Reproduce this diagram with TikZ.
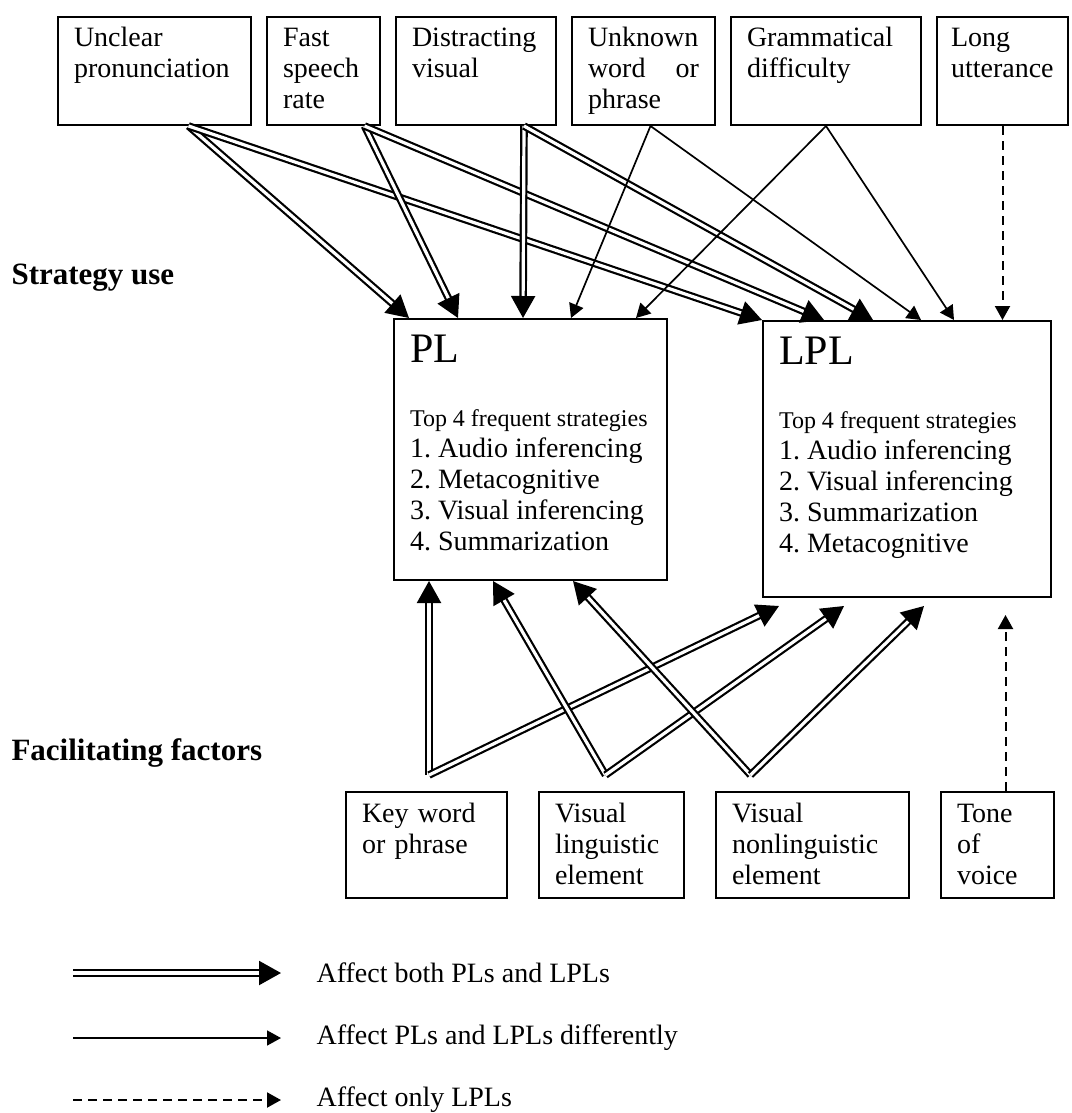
\documentclass[tikz,border=0pt]{standalone}
\usepackage{fontspec}
\setmainfont{Liberation Serif}
\usepackage{tikz}
\usetikzlibrary{positioning, arrows.meta, calc}
\frenchspacing

\begin{document}
\begin{tikzpicture}[x=1pt, y=-1pt,
  factor/.style={rectangle, draw, line width=2pt, anchor=north west, align=left,
    inner xsep=16pt, inner ysep=6pt, text height=24pt, text depth=72pt,
    font=\fontsize{28pt}{31pt}\selectfont},
  group/.style={rectangle, draw, line width=2pt, anchor=north west, align=flush left,
    inner xsep=16pt, inner ysep=6pt, text height=37pt,
    font=\fontsize{28pt}{31pt}\selectfont},
  side/.style={anchor=base west, font=\fontsize{31pt}{34pt}\selectfont\bfseries},
  keytext/.style={font=\fontsize{28pt}{31pt}\selectfont},
  bothlink/.style={double, double distance=3.2pt, line width=2.2pt,
    -{Triangle[length=22pt, width=24pt]}},
  difflink/.style={line width=1.7pt, -{Triangle[length=14pt, width=15pt]}},
  lplink/.style={line width=2pt, dash pattern=on 9pt off 6pt,
    -{Triangle[length=14pt, width=15pt]}}
]
  \useasboundingbox (0,0) rectangle (1071,1113);

  % problems heard or seen
  \node[factor, text width=161pt] (unclear) at (57,16) {Unclear\\pronunciation};
  \node[factor, text width=81pt, right=14pt of unclear] (fast) {Fast\\speech\\rate};
  \node[factor, text width=128pt, right=14pt of fast] (distract) {Distracting\\visual};
  \node[factor, text width=111pt, right=14pt of distract] (unknown) {Unknown\\word\hfill or\\phrase};
  \node[factor, text width=158pt, right=14pt of unknown] (grammar) {Grammatical\\difficulty};
  \node[factor, text width=103pt, inner xsep=14pt, right=14pt of grammar] (long) {Long\\utterance};

  \node[side] (usage) at (8,284) {Strategy use};

  \node[group, text width=241pt, text depth=212pt] (pl) at (393,318)
    {{\fontsize{42pt}{42pt}\selectfont PL}\\[33pt]
     {\fontsize{24pt}{24pt}\selectfont Top 4 frequent strategies}\\
     1. Audio inferencing\\2. Metacognitive\\3. Visual inferencing\\4. Summarization};
  \node[group, text width=256pt, text depth=227pt] (lpl) at (762,320)
    {{\fontsize{42pt}{42pt}\selectfont LPL}\\[33pt]
     {\fontsize{24pt}{24pt}\selectfont Top 4 frequent strategies}\\
     1. Audio inferencing\\2. Visual inferencing\\3. Summarization\\4. Metacognitive};

  \node[side] (facil) at (8,760) {Facilitating factors};

  % helping factors
  \node[factor, text width=129pt, text depth=70pt] (keyword) at (345,791) {Key word\\or phrase};
  \node[factor, text width=113pt, text depth=70pt, right=30pt of keyword] (vling) {Visual\\linguistic\\element};
  \node[factor, text width=161pt, text depth=70pt, right=30pt of vling] (nvling) {Visual\\nonlinguistic\\element};
  \node[factor, text width=81pt, text depth=70pt, right=30pt of nvling] (tone) {Tone\\of\\voice};

  \draw[bothlink] ([xshift=34pt]unclear.south) -- ([xshift=-121.5pt]pl.north);
  \draw[bothlink] ([xshift=34pt]unclear.south) -- (lpl.north west);
  \draw[bothlink] ([xshift=41pt]fast.south) -- ([xshift=-72.5pt]pl.north);
  \draw[bothlink] ([xshift=41pt]fast.south) -- ([xshift=-83pt]lpl.north);
  \draw[bothlink] ([xshift=48pt]distract.south) -- ([xshift=-7.5pt]pl.north);
  \draw[bothlink] ([xshift=48pt]distract.south) -- ([xshift=-34pt]lpl.north);
  \draw[difflink] ([xshift=7pt]unknown.south) -- ([xshift=40.5pt]pl.north);
  \draw[difflink] ([xshift=7pt]unknown.south) -- ([xshift=14pt]lpl.north);
  \draw[difflink] (grammar.south) -- ([xshift=105.5pt]pl.north);
  \draw[difflink] (grammar.south) -- ([xshift=47pt]lpl.north);
  \draw[lplink] (long.south) -- (long.south |- lpl.north);

  \draw[bothlink] ($(keyword.north)+(2.5,-16)$) -- ([xshift=-101.5pt]pl.south);
  \draw[bothlink] ($(keyword.north)+(2.5,-16)$) -- ($(lpl.south)+(-128,8)$);
  \draw[bothlink] ($(vling.north)+(-6,-16)$) -- ([xshift=-37.5pt]pl.south);
  \draw[bothlink] ($(vling.north)+(-6,-16)$) -- ($(lpl.south)+(-63,8)$);
  \draw[bothlink] ($(nvling.north)+(-62,-16)$) -- ([xshift=42.5pt]pl.south);
  \draw[bothlink] ($(nvling.north)+(-62,-16)$) -- ($(lpl.south)+(17,8)$);
  \draw[lplink] ([xshift=8pt]tone.north) -- ($(lpl.south -| tone.north)+(8,17)$);

  % legend
  \coordinate (bothA) at (73,973);
  \coordinate (bothB) at (281,973);
  \coordinate (diffA) at (73,1038);
  \coordinate (diffB) at (281,1038);
  \coordinate (onlyA) at (73,1100);
  \coordinate (onlyB) at (281,1100);
  \draw[bothlink] (bothA) -- (bothB);
  \draw[difflink] (diffA) -- (diffB);
  \draw[lplink] (onlyA) -- (onlyB);
  \node[keytext, right=32pt of bothB] (bothtext) {Affect both PLs and LPLs};
  \node[keytext, right=32pt of diffB] (difftext) {Affect PLs and LPLs differently};
  \node[keytext, right=32pt of onlyB] (onlytext) {Affect only LPLs};
\end{tikzpicture}
\end{document}
